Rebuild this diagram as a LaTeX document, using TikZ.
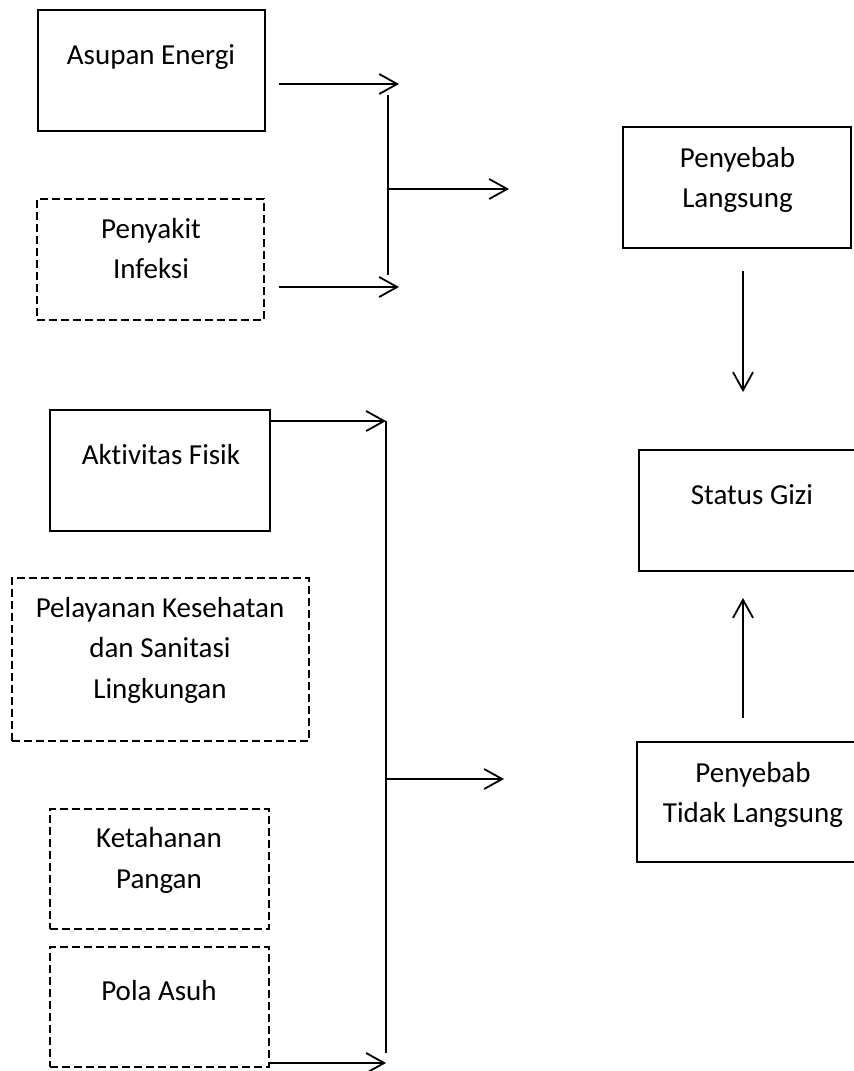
\documentclass[tikz,border=0pt]{standalone}
\usepackage{fontspec}
\setmainfont{Carlito}[Ligatures=NoCommon]
\usetikzlibrary{arrows.meta}
\tikzset{
  box/.style={draw, line width=1.8pt, inner sep=0pt, outer sep=0pt},
  dbox/.style={box, line width=1.6pt, dash pattern=on 8pt off 4pt},
  txt/.style={inner sep=0pt, anchor=base, font=\fontsize{29}{40}\selectfont},
  ln/.style={line width=1.8pt},
  arr/.style={line width=1.8pt, -{Straight Barb[length=18pt,width=20pt,line width=1.8pt]}}
}
\begin{document}
\begin{tikzpicture}[x=1pt,y=-1pt]
\useasboundingbox (0,0) rectangle (854,1071);
\clip (0,0) rectangle (854,1071);
% left boxes
\node[box, minimum width=227pt, minimum height=121pt] (asupan) at (151.5,70.5) {};
\node[txt] (asupanT) at (151,64) {Asupan Energi};
\node[dbox, minimum width=227pt, minimum height=121pt] (penyakit) at (150.5,259.5) {};
\node[txt] (penyakitT1) at (151,238) {Penyakit};
\node[txt] (penyakitT2) at (151,278) {Infeksi};
\node[box, minimum width=220pt, minimum height=121pt] (aktivitas) at (160,470.5) {};
\node[txt] (aktivitasT) at (161,464) {Aktivitas Fisik};
\node[dbox, minimum width=297pt, minimum height=163pt] (pelayanan) at (160.5,659.5) {};
\node[txt] (pelayananT1) at (160,617) {Pelayanan Kesehatan};
\node[txt] (pelayananT2) at (160,657.5) {dan Sanitasi};
\node[txt] (pelayananT3) at (160,698) {Lingkungan};
\node[dbox, minimum width=219pt, minimum height=120pt] (ketahanan) at (159.5,869) {};
\node[txt] (ketahananT1) at (159,847) {Ketahanan};
\node[txt] (ketahananT2) at (159,888) {Pangan};
\node[dbox, minimum width=219pt, minimum height=120pt] (pola) at (159.5,1007) {};
\node[txt] (polaT) at (159,1000) {Pola Asuh};
% right boxes
\node[box, minimum width=228pt, minimum height=121pt] (langsung) at (737,187.5) {};
\node[txt] (langsungT1) at (737.5,167) {Penyebab};
\node[txt] (langsungT2) at (737.5,207) {Langsung};
\node[box, minimum width=227pt, minimum height=121pt] (gizi) at (752.5,510.5) {};
\node[txt] (giziT) at (752,504) {Status Gizi};
\node[box, minimum width=232pt, minimum height=120pt] (tidak) at (753,802) {};
\node[txt] (tidakT1) at (753,782) {Penyebab};
\node[txt] (tidakT2) at (753,822) {Tidak Langsung};
% junction coordinates
\coordinate (a1s) at (279,84);
\coordinate (a1e) at (399,84);
\coordinate (a2s) at (279,287);
\coordinate (a2e) at (399,287);
\coordinate (v1t) at (388,95);
\coordinate (v1b) at (388,275);
\coordinate (v1m) at (388,189);
\coordinate (m1e) at (509,189);
\coordinate (a3e) at (386,421);
\coordinate (a4e) at (386,1063);
\coordinate (v2t) at (386,421);
\coordinate (v2b) at (386,1053);
\coordinate (v2m) at (386,779);
\coordinate (m2e) at (504,779);
\coordinate (d1s) at (743,271);
\coordinate (d1e) at (743,392);
\coordinate (u1s) at (743,718);
\coordinate (u1e) at (743,598);
% connectors
\draw[arr] (a1s) -- (a1e);
\draw[arr] (a2s) -- (a2e);
\draw[ln] (v1t) -- (v1b);
\draw[arr] (v1m) -- (m1e);
\draw[arr] (aktivitas.east |- a3e) -- (a3e);
\draw[arr] (pola.east |- a4e) -- (a4e);
\draw[ln] (v2t) -- (v2b);
\draw[arr] (v2m) -- (m2e);
\draw[arr] (d1s) -- (d1e);
\draw[arr] (u1s) -- (u1e);
\end{tikzpicture}
\end{document}
